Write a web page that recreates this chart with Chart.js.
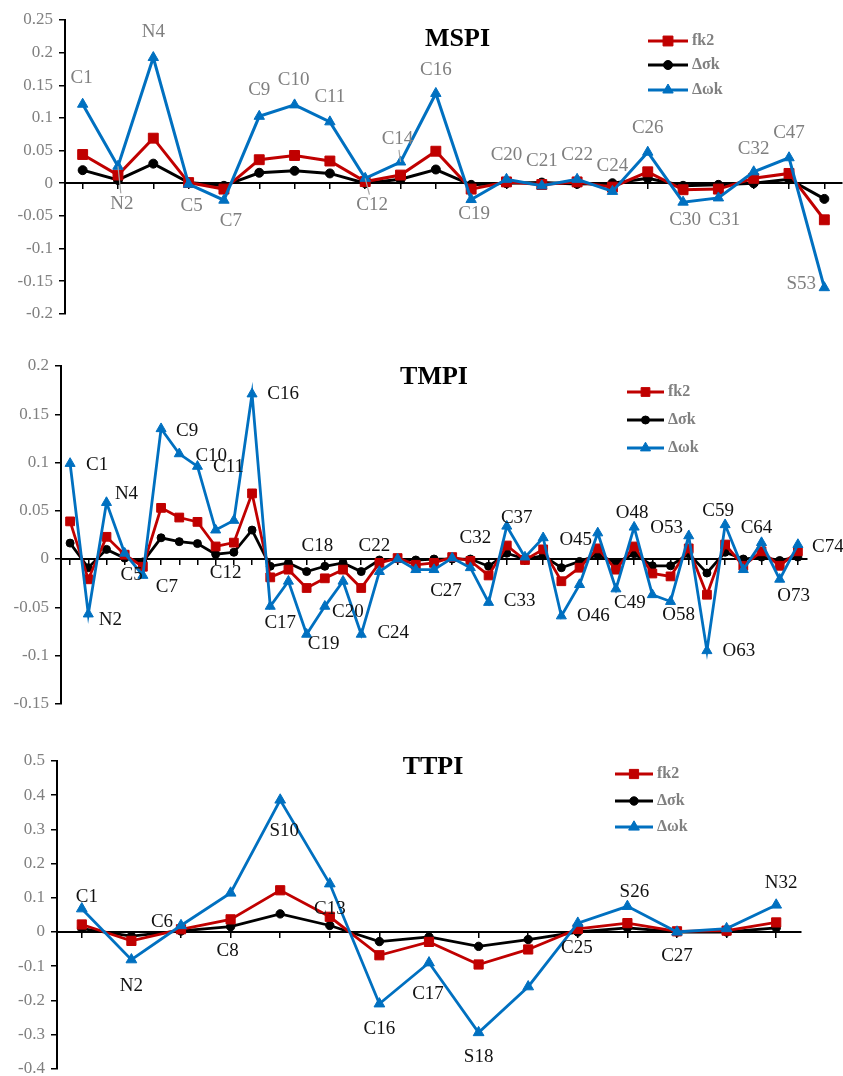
<!DOCTYPE html>
<html>
<head>
<meta charset="utf-8">
<script src="https://cdn.jsdelivr.net/npm/chart.js@4/dist/chart.umd.min.js"></script>
<style>
html,body{margin:0;padding:0;background:#fff;overflow:hidden;width:843px;height:1076px;position:relative}
canvas{position:absolute;left:0}
</style>
</head>
<body>
<canvas id="mspi" width="850" height="330" style="top:0px"></canvas>
<canvas id="tmpi" width="850" height="390" style="top:330px"></canvas>
<canvas id="ttpi" width="850" height="365" style="top:720px"></canvas>
<script>
// ---------------- DATA ----------------
const seriesNames = ['fk2', 'Δσk', 'Δωk'];

// MSPI
const mspiLabels = ['C1','N2','N4','C5','C7','C9','C10','C11','C12','C14','C16','C19','C20','C21','C22','C24','C26','C30','C31','C32','C47','S53'];
const mspiFk2   = [0.044,0.0125,0.069,0.001,-0.009,0.036,0.0425,0.034,0.0025,0.0125,0.049,-0.009,0.002,-0.002,0.002,-0.006,0.0175,-0.010,-0.009,0.0075,0.015,-0.056];
const mspiSigma = [0.020,0.005,0.030,0.001,-0.004,0.016,0.019,0.015,0.0,0.006,0.021,-0.0025,0.0,0.001,-0.001,0.0,0.0075,-0.004,-0.0025,0.0,0.006,-0.024];
const mspiOmega = [0.121,0.026,0.1925,-0.0015,-0.026,0.1025,0.120,0.094,0.0075,0.0325,0.1375,-0.025,0.006,-0.004,0.006,-0.0125,0.0475,-0.029,-0.0225,0.0175,0.039,-0.160];
const mspiYTicks = [0.25,0.2,0.15,0.1,0.05,0,-0.05,-0.1,-0.15,-0.2];

// TMPI
const tmpiCategories = Array.from({length: 41}, (_, i) => 'P' + (i + 1));
const tmpiPointNames = ['C1','N2','N4','C5','C7','C9','C10','C11','C12','','C16','C17','C18','C19','C20','','C24','C22','','','C27','','C32','C33','C37','','','O46','','O45','C49','O48','','O58','O53','O63','C59','','C64','O73','C74'];
const tmpiFk2   = [0.039,-0.021,0.023,0.0045,-0.008,0.053,0.043,0.0385,0.013,0.017,0.068,-0.019,-0.011,-0.030,-0.020,-0.011,-0.030,-0.004,0.001,-0.006,-0.004,0.002,-0.002,-0.017,0.014,-0.001,0.010,-0.023,-0.009,0.011,-0.011,0.013,-0.015,-0.018,0.011,-0.037,0.015,-0.007,0.008,-0.007,0.008];
const tmpiSigma = [0.0165,-0.009,0.010,0.001,-0.003,0.022,0.018,0.016,0.005,0.007,0.030,-0.0075,-0.004,-0.013,-0.0075,-0.004,-0.013,-0.001,0,-0.001,0,0,0,-0.0075,0.006,0,0.0035,-0.009,-0.0025,0.0045,-0.004,0.0055,-0.007,-0.007,0.0055,-0.0145,0.007,0,0.002,-0.0015,0.002];
const tmpiOmega = [0.099,-0.057,0.0585,0.006,-0.017,0.135,0.109,0.096,0.030,0.040,0.171,-0.049,-0.023,-0.078,-0.049,-0.023,-0.078,-0.013,0,-0.011,-0.011,0.001,-0.009,-0.045,0.034,0.002,0.022,-0.059,-0.0265,0.027,-0.031,0.033,-0.037,-0.044,0.024,-0.095,0.0355,-0.011,0.017,-0.021,0.015];
const tmpiYTicks = [0.2,0.15,0.1,0.05,0,-0.05,-0.1,-0.15];

// TTPI
const ttpiCategories = Array.from({length: 15}, (_, i) => 'P' + (i + 1));
const ttpiPointNames = ['C1','N2','C6','C8','S10','C13','C16','C17','S18','','C25','S26','C27','','N32'];
const ttpiFk2   = [0.022,-0.026,0.008,0.037,0.122,0.0445,-0.068,-0.029,-0.095,-0.051,0.009,0.026,0.002,0.004,0.028];
const ttpiSigma = [0.010,-0.012,0.003,0.0155,0.053,0.019,-0.028,-0.0145,-0.042,-0.022,0,0.012,0,0,0.012];
const ttpiOmega = [0.068,-0.081,0.019,0.114,0.386,0.141,-0.210,-0.090,-0.294,-0.160,0.026,0.075,0,0.010,0.079];
const ttpiYTicks = [0.5,0.4,0.3,0.2,0.1,0,-0.1,-0.2,-0.3,-0.4];

// ---------------- LAYOUT / STYLE ----------------
const COLORS = ['#C00000', '#000000', '#0070C0'];
const STYLES = ['rect', 'circle', 'triangle'];
const SERIF = '"Liberation Serif", "Times New Roman", serif';

const mspiLabelOffsets = {C1:[-1,-26],N2:[4,38],N4:[0,-26],C5:[3,22],C7:[7,21],C9:[0,-26],C10:[-1,-25],C11:[0,-25],C12:[7,27],C14:[-3,-23],C16:[0,-23],C19:[3,14],C20:[0,-24],C21:[0,-25],C22:[0,-24],C24:[0,-25],C26:[0,-24],C30:[2,18],C31:[6,22],C32:[0,-23],C47:[0,-25],S53:[-23,-4]};
const tmpiLabelOffsets = {C1:[27,2],N2:[22,6],N4:[20,-9],C5:[7,22],C7:[24,12],C9:[26,2],C10:[32,2],C11:[31,1],C12:[10,43],C16:[31,0],C17:[10,17],C18:[29,-35],C19:[17,10],C20:[23,6],C24:[32,-1],C22:[-5,-26],C27:[12,21],C32:[5,-30],C33:[31,-1],C37:[10,-8],O46:[32,0],O45:[-22,7],C49:[14,14],O48:[-2,-14],O58:[8,14],O53:[-22,-8],O63:[32,0],C59:[-7,-14],C64:[-5,-15],O73:[14,17],C74:[30,2]};
const ttpiLabelOffsets = {C1:[5,-12],N2:[0,26],C6:[-19,-3],C8:[-3,58],S10:[4,31],C13:[0,25],C16:[0,25],C17:[-1,31],S18:[0,24],C25:[-1,25],S26:[7,-14],C27:[0,24],N32:[5,-22]};
const mspiLeaders = ['N2', 'C12', 'C14'];

function drawMarker(c, style, x, y, r, color) {
  c.save();
  c.fillStyle = color; c.strokeStyle = color; c.lineWidth = 1;
  c.beginPath();
  if (style === 'rect') {
    const s = r * Math.SQRT1_2;
    c.rect(x - s, y - s, 2 * s, 2 * s);
  } else if (style === 'circle') {
    c.arc(x, y, r, 0, Math.PI * 2);
  } else {
    const a = -Math.PI / 2;
    c.moveTo(x + Math.cos(a) * r, y + Math.sin(a) * r);
    c.lineTo(x + Math.cos(a + 2 * Math.PI / 3) * r, y + Math.sin(a + 2 * Math.PI / 3) * r);
    c.lineTo(x + Math.cos(a - 2 * Math.PI / 3) * r, y + Math.sin(a - 2 * Math.PI / 3) * r);
    c.closePath();
  }
  c.fill(); c.stroke();
  c.restore();
}

function makePanel(id, p) {
  const deco = {
    id: 'deco',
    afterDatasetsDraw(chart) {
      const c = chart.ctx, area = chart.chartArea;
      c.save();
      // title
      c.font = 'bold 26px ' + SERIF;
      c.fillStyle = '#000';
      c.textAlign = 'center';
      c.textBaseline = 'middle';
      c.fillText(p.title, (area.left + area.right) / 2 + p.titleDx, p.titleY);
      // legend
      p.legendRows.forEach((ly, i) => {
        c.strokeStyle = COLORS[i];
        c.lineWidth = p.lineWidth;
        c.beginPath();
        c.moveTo(p.legendX0, ly); c.lineTo(p.legendX1, ly); c.stroke();
        drawMarker(c, STYLES[i], (p.legendX0 + p.legendX1) / 2, ly, p.radii[i], COLORS[i]);
        c.font = 'bold 16px ' + SERIF;
        c.fillStyle = '#808080';
        c.textAlign = 'left';
        c.textBaseline = 'middle';
        c.fillText(seriesNames[i], p.legendX1 + 4, ly);
      });
      // point labels (attached to the Δωk points)
      const meta = chart.getDatasetMeta(2);
      c.font = p.labelFontSize + 'px ' + SERIF;
      c.textAlign = 'center';
      c.textBaseline = 'middle';
      p.names.forEach((n, i) => {
        if (!n) return;
        const off = p.offsets[n] || [0, -20];
        const pt = meta.data[i];
        if (p.leaders && p.leaders.includes(n)) {
          const len = Math.hypot(off[0], off[1]);
          const k = (len - 11) / len;
          c.strokeStyle = '#a6a6a6';
          c.lineWidth = 1.2;
          c.beginPath();
          c.moveTo(pt.x, pt.y);
          c.lineTo(pt.x + off[0] * k, pt.y + off[1] * k);
          c.stroke();
        }
        c.fillStyle = p.labelColor;
        c.fillText(n, pt.x + off[0], pt.y + off[1]);
      });
      c.restore();
    }
  };
  const mk = (i, data, order) => ({
    label: seriesNames[i],
    data: data,
    borderColor: COLORS[i],
    backgroundColor: COLORS[i],
    pointBackgroundColor: COLORS[i],
    pointBorderColor: COLORS[i],
    pointBorderWidth: 1,
    pointStyle: STYLES[i],
    pointRadius: p.radii[i],
    borderWidth: p.lineWidth,
    tension: 0,
    fill: false,
    clip: false,
    order: order
  });
  new Chart(document.getElementById(id), {
    type: 'line',
    data: {
      labels: p.categories,
      datasets: [mk(0, p.fk2, 1), mk(1, p.sigma, 2), mk(2, p.omega, 0)]
    },
    options: {
      responsive: false,
      animation: false,
      devicePixelRatio: 1,
      events: [],
      layout: {padding: p.padding},
      plugins: {legend: {display: false}, tooltip: {enabled: false}, title: {display: false}},
      scales: {
        x: {
          type: 'category',
          offset: true,
          position: {y: 0},
          border: {display: true, color: '#000', width: 2},
          grid: {display: true, drawOnChartArea: false, drawTicks: true, tickLength: 5, color: '#000', lineWidth: 1.5, offset: false},
          ticks: {display: false}
        },
        y: {
          min: p.yTicks[p.yTicks.length - 1],
          max: p.yTicks[0],
          afterBuildTicks: s => { s.ticks = p.yTicks.map(v => ({value: v})); },
          afterFit: s => { s.width = p.yAxisWidth; },
          border: {display: true, color: '#000', width: 2},
          grid: {drawOnChartArea: false, drawTicks: true, tickLength: 6, color: '#000', lineWidth: 1.5},
          ticks: {color: '#808080', font: {family: SERIF, size: 17}, padding: 6, callback: v => String(v)}
        }
      }
    },
    plugins: [deco]
  });
}

makePanel('mspi', {
  title: 'MSPI', titleDx: 4, titleY: 39,
  categories: mspiLabels, names: mspiLabels, offsets: mspiLabelOffsets, leaders: mspiLeaders,
  fk2: mspiFk2, sigma: mspiSigma, omega: mspiOmega, yTicks: mspiYTicks,
  padding: {top: 20, bottom: 10, left: 0, right: 2}, yAxisWidth: 65,
  radii: [7, 4.5, 6], lineWidth: 3,
  legendX0: 648, legendX1: 688, legendRows: [41, 65, 90],
  labelColor: '#7f7f7f', labelFontSize: 19
});
makePanel('tmpi', {
  title: 'TMPI', titleDx: 0, titleY: 47,
  categories: tmpiCategories, names: tmpiPointNames, offsets: tmpiLabelOffsets,
  fk2: tmpiFk2, sigma: tmpiSigma, omega: tmpiOmega, yTicks: tmpiYTicks,
  padding: {top: 36, bottom: 15, left: 0, right: 43}, yAxisWidth: 61,
  radii: [6.2, 4, 5.8], lineWidth: 2.8,
  legendX0: 627, legendX1: 664, legendRows: [62, 90, 118],
  labelColor: '#111111', labelFontSize: 19
});
makePanel('ttpi', {
  title: 'TTPI', titleDx: 4, titleY: 47,
  categories: ttpiCategories, names: ttpiPointNames, offsets: ttpiLabelOffsets,
  fk2: ttpiFk2, sigma: ttpiSigma, omega: ttpiOmega, yTicks: ttpiYTicks,
  padding: {top: 41, bottom: 14, left: 0, right: 49}, yAxisWidth: 57,
  radii: [6.5, 4.2, 6.2], lineWidth: 2.8,
  legendX0: 615, legendX1: 653, legendRows: [54, 81, 107],
  labelColor: '#111111', labelFontSize: 19
});
</script>
</body>
</html>
